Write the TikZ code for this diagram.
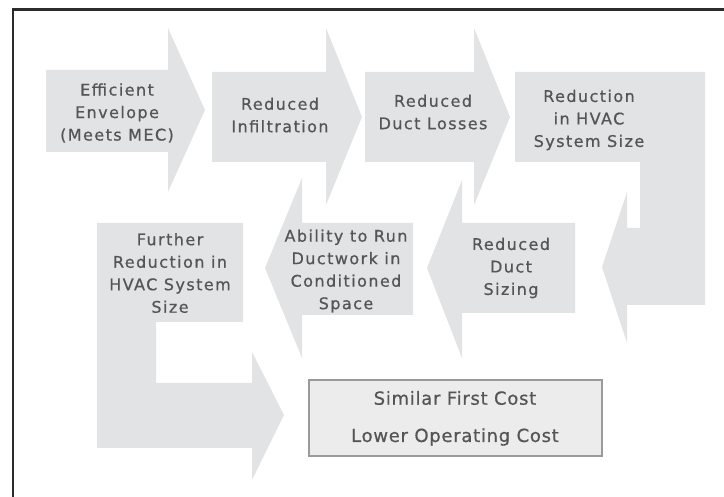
\documentclass[tikz,border=0pt]{standalone}
\usepackage{fontspec}
\setmainfont{DejaVu Sans}
\newfontfamily\steplabelfont[LetterSpace=9,FakeBold=0.7]{DejaVu Sans}
\newfontfamily\resultfont[LetterSpace=4,FakeBold=0.7]{DejaVu Sans}
\definecolor{arrowgray}{HTML}{E2E3E4}
\definecolor{boxgray}{HTML}{ECECED}
\definecolor{boxline}{HTML}{9A9A9A}
\definecolor{labelgray}{HTML}{555555}
\definecolor{framegray}{HTML}{2B2B2B}
\begin{document}
\begin{tikzpicture}[x=1pt,y=-1pt,
  flow/.style={fill=arrowgray,draw=none},
  lbl/.style={align=center,text=labelgray,inner sep=0pt,
    font=\steplabelfont\fontsize{16}{22.5}\selectfont},
  resultbox/.style={fill=boxgray,draw=boxline,line width=1.1pt},
  result/.style={text=labelgray,inner sep=0pt,
    font=\resultfont\fontsize{18}{22}\selectfont}]
\useasboundingbox (0,0) rectangle (724,497);
% outer frame
\draw[framegray,line width=2.5pt] (13,500) -- (13,9.5) -- (730,9.5);
% top row of arrows
\fill[flow] (46,70) -- (168,70) -- (168,28) -- (205,110) -- (168,192) -- (168,152) -- (46,152) -- cycle;
\fill[flow] (212,72) -- (326,72) -- (326,28) -- (362,117) -- (326,205) -- (326,162) -- (212,162) -- cycle;
\fill[flow] (365,72) -- (474,72) -- (474,28) -- (510,117) -- (474,205) -- (474,162) -- (365,162) -- cycle;
% bent arrow turning back to the left
\fill[flow] (515,72) -- (705,72) -- (705,305) -- (627,305) -- (627,343) -- (602,267) -- (627,192) -- (627,228) -- (640,228) -- (640,162) -- (515,162) -- cycle;
% middle row, pointing left
\fill[flow] (575,223) -- (575,313) -- (462,313) -- (462,358) -- (427,268) -- (462,180) -- (462,223) -- cycle;
\fill[flow] (413,223) -- (413,315) -- (302,315) -- (302,358) -- (265,268) -- (302,178) -- (302,223) -- cycle;
% bent arrow leading down to the result
\fill[flow] (97,223) -- (243,223) -- (243,322) -- (156,322) -- (156,383) -- (252,383) -- (252,352) -- (284,415) -- (252,480) -- (252,448) -- (97,448) -- cycle;
% result box
\draw[resultbox] (309,380) rectangle (602,456);
% labels
\node[lbl] (envelope) at (117,113) {Efficient\\Envelope\\(Meets MEC)};
\node[lbl] (infil) at (280,115) {Reduced\\Infiltration};
\node[lbl] (losses) at (433,112) {Reduced\\Duct Losses};
\node[lbl] (hvac) at (589,120) {Reduction\\in HVAC\\System Size};
\node[lbl] (sizing) at (511,268) {Reduced\\Duct\\Sizing};
\node[lbl] (ductwork) at (346,271) {Ability to Run\\Ductwork in\\Conditioned\\Space};
\node[lbl] (further) at (170,273) {Further\\Reduction in\\HVAC System\\Size};
\node[result] (first) at (455,398) {Similar First Cost};
\node[result] (operating) at (455,437) {Lower Operating Cost};
\end{tikzpicture}
\end{document}
